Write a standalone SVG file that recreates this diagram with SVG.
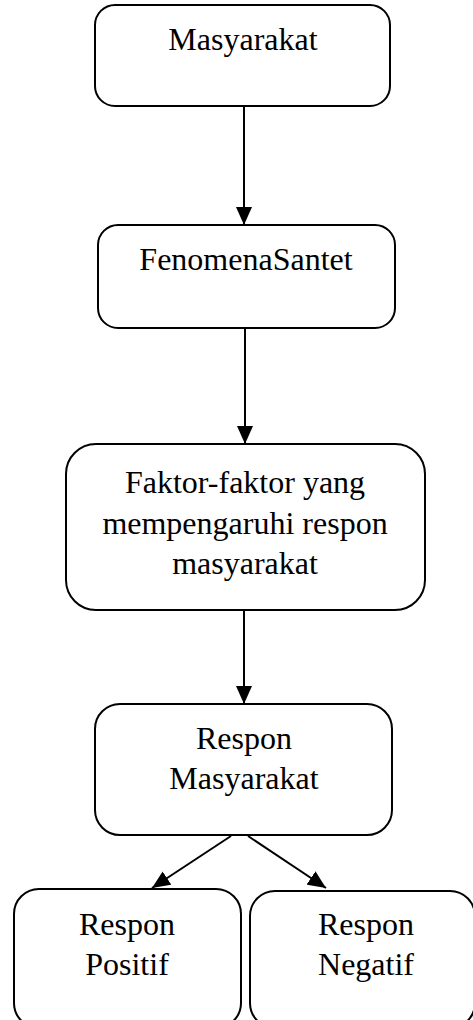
<svg xmlns="http://www.w3.org/2000/svg" width="473" height="1020" viewBox="0 0 473 1020">
<defs>
<style>
.box{fill:#fff;stroke:#000;stroke-width:2}
.t{font-family:"Liberation Serif","Times New Roman",serif;font-size:32px;fill:#000;text-anchor:middle}
.c{stroke:#000;stroke-width:2;fill:none}
</style>
<marker id="arr" viewBox="0 0 18 16" refX="18" refY="8" markerWidth="18" markerHeight="16" markerUnits="userSpaceOnUse" orient="auto">
<path d="M0,0 L18,8 L0,16 z" fill="#000"/>
</marker>
</defs>
<rect width="473" height="1020" fill="#fff"/>
<g id="connectors">
<line class="c" x1="244" y1="106" x2="244" y2="225" marker-end="url(#arr)"/>
<line class="c" x1="245" y1="328" x2="245" y2="444" marker-end="url(#arr)"/>
<line class="c" x1="244" y1="610" x2="244" y2="704" marker-end="url(#arr)"/>
<line class="c" x1="231" y1="836" x2="152" y2="888" marker-end="url(#arr)"/>
<line class="c" x1="248" y1="836" x2="326" y2="888" marker-end="url(#arr)"/>
</g>
<g id="masyarakat">
<rect class="box" x="95" y="5" width="295" height="101" rx="20"/>
<text class="t" x="243" y="50">Masyarakat</text>
</g>
<g id="fenomena">
<rect class="box" x="98" y="225" width="297" height="103" rx="20"/>
<text class="t" x="246" y="270">FenomenaSantet</text>
</g>
<g id="faktor">
<rect class="box" x="66" y="444" width="359" height="166" rx="30"/>
<text class="t" x="245" y="493">Faktor-faktor yang</text>
<text class="t" x="245" y="534">mempengaruhi respon</text>
<text class="t" x="245" y="574">masyarakat</text>
</g>
<g id="respon-masyarakat">
<rect class="box" x="95" y="704" width="297" height="131" rx="25"/>
<text class="t" x="244" y="749">Respon</text>
<text class="t" x="244" y="789">Masyarakat</text>
</g>
<g id="respon-positif">
<rect class="box" x="14" y="889" width="227" height="139" rx="25"/>
<text class="t" x="127" y="935">Respon</text>
<text class="t" x="127" y="975">Positif</text>
</g>
<g id="respon-negatif">
<rect class="box" x="250" y="891" width="225" height="137" rx="25"/>
<text class="t" x="366" y="935">Respon</text>
<text class="t" x="366" y="975">Negatif</text>
</g>
</svg>
